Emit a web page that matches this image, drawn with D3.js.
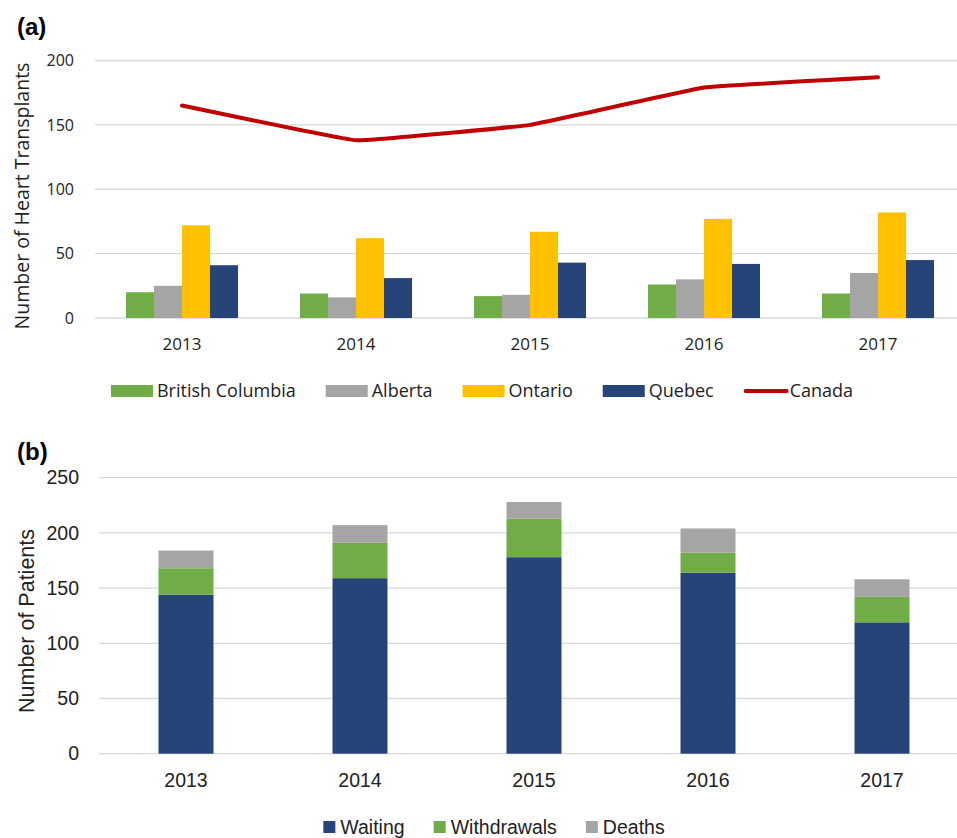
<!DOCTYPE html>
<html>
<head>
<meta charset="utf-8">
<script src="https://cdn.jsdelivr.net/npm/d3@7"></script>
<style>
  body { margin: 0; background: #fff; }
  svg { display: block; }
</style>
</head>
<body>
<div id="chart"></div>
<script>
// Data
const years = ['2013', '2014', '2015', '2016', '2017'];

// Panel (a): heart transplants by province
const provinces = ['British Columbia', 'Alberta', 'Ontario', 'Quebec'];
const britishColumbia = [20, 19, 17, 26, 19];
const alberta = [25, 16, 18, 30, 35];
const ontario = [72, 62, 67, 77, 82];
const quebec = [41, 31, 43, 42, 45];
const canada = [165, 138, 150, 179, 187];
const ticksA = [0, 50, 100, 150, 200];

// Panel (b): patients on the waiting list
const outcomes = ['Waiting', 'Withdrawals', 'Deaths'];
const waiting = [144, 159, 178, 164, 119];
const withdrawals = [24, 32, 35, 18, 23];
const deaths = [16, 16, 15, 22, 16];
const ticksB = [0, 50, 100, 150, 200, 250];

const provinceColors = ['#70AD47', '#A5A5A5', '#FFC000', '#264478'];
const outcomeColors = ['#264478', '#70AD47', '#A5A5A5'];
const gridColor = '#D9D9D9';

const W = 957, H = 838;

const svg = d3.select('#chart')
    .append('svg')
    .attr('width', W)
    .attr('height', H);

// ---------- Panel (a) ----------
const fontA = "'Open Sans', sans-serif";
const xA = d3.scaleBand().domain(years).range([95, 965]);
const yA = d3.scaleLinear().domain([0, 200]).range([318, 60.5]);
const xInner = d3.scaleBand().domain(provinces).range([0, 112]);

svg.append('text')
    .attr('x', 17).attr('y', 35)
    .style('font-family', 'Arial, sans-serif')
    .style('font-weight', 'bold')
    .style('font-size', '24px')
    .text('(a)');

// gridlines
svg.append('g')
    .selectAll('line')
    .data(ticksA)
    .join('line')
    .attr('x1', 95).attr('x2', W)
    .attr('y1', d => yA(d)).attr('y2', d => yA(d))
    .attr('stroke', gridColor)
    .attr('stroke-width', 1.3);

// y axis labels
const axisA = svg.append('g')
    .attr('transform', 'translate(80,0)')
    .call(d3.axisLeft(yA).tickValues(ticksA).tickSize(0).tickPadding(6));
axisA.select('.domain').remove();
axisA.selectAll('text')
    .style('font-family', fontA)
    .style('font-size', '16px')
    .attr('fill', '#222');

// x axis labels
const xAxisA = svg.append('g')
    .attr('transform', 'translate(0,318)')
    .call(d3.axisBottom(xA).tickSize(0).tickPadding(20));
xAxisA.select('.domain').remove();
xAxisA.selectAll('text')
    .style('font-family', fontA)
    .style('font-size', '17px')
    .attr('fill', '#222');

svg.append('text')
    .attr('transform', `translate(29,${(52 + 340) / 2}) rotate(-90)`)
    .attr('text-anchor', 'middle')
    .style('font-family', fontA)
    .style('font-size', '19.5px')
    .attr('fill', '#222')
    .text('Number of Heart Transplants');

// grouped bars
const provinceSeries = [britishColumbia, alberta, ontario, quebec];
const groupsA = svg.append('g')
    .selectAll('g')
    .data(years)
    .join('g')
    .attr('transform', d => `translate(${xA(d) + xA.bandwidth() / 2 - 56},0)`);

groupsA.selectAll('rect')
    .data((d, i) => provinces.map((p, j) => ({ p, v: provinceSeries[j][i], c: provinceColors[j] })))
    .join('rect')
    .attr('x', d => xInner(d.p))
    .attr('width', xInner.bandwidth())
    .attr('y', d => yA(d.v))
    .attr('height', d => yA(0) - yA(d.v))
    .attr('fill', d => d.c);

// Canada line (only lightly smoothed, like the original)
const line = d3.line()
    .x((d, i) => xA(years[i]) + xA.bandwidth() / 2)
    .y(d => yA(d))
    .curve(d3.curveCardinal.tension(0.8));

svg.append('path')
    .datum(canada)
    .attr('d', line)
    .attr('fill', 'none')
    .attr('stroke', '#C00000')
    .attr('stroke-width', 4)
    .attr('stroke-linecap', 'round')
    .attr('stroke-linejoin', 'round');

// legend (a)
const legendA = svg.append('g').attr('transform', 'translate(0,391)');
const itemsA = provinces.map((p, i) => ({ name: p, color: provinceColors[i], type: 'rect' }))
    .concat([{ name: 'Canada', color: '#C00000', type: 'line' }]);
let lx = 0;
itemsA.forEach(it => {
    const g = legendA.append('g').attr('transform', `translate(${lx},0)`);
    if (it.type === 'rect') {
        g.append('rect').attr('x', 0).attr('y', -6).attr('width', 42).attr('height', 12).attr('fill', it.color);
    } else {
        g.append('line').attr('x1', 2).attr('x2', 43).attr('y1', 0).attr('y2', 0)
            .attr('stroke', it.color).attr('stroke-width', 4).attr('stroke-linecap', 'round');
    }
    const t = g.append('text')
        .attr('x', 46).attr('y', 0).attr('dy', '0.35em')
        .style('font-family', fontA)
        .style('font-size', '18px')
        .attr('fill', '#222')
        .text(it.name);
    lx += 46 + t.node().getComputedTextLength() + 30;
});
const widthA = lx - 30;
legendA.attr('transform', `translate(${482 - widthA / 2},391)`);

// ---------- Panel (b) ----------
const fontB = "'Liberation Sans', Arial, sans-serif";
const xB = d3.scaleBand().domain(years).range([99, 969]);
const yB = d3.scaleLinear().domain([0, 250]).range([753.7, 477.7]);

svg.append('text')
    .attr('x', 17).attr('y', 460)
    .style('font-family', 'Arial, sans-serif')
    .style('font-weight', 'bold')
    .style('font-size', '24px')
    .text('(b)');

svg.append('g')
    .selectAll('line')
    .data(ticksB)
    .join('line')
    .attr('x1', 99).attr('x2', W)
    .attr('y1', d => yB(d)).attr('y2', d => yB(d))
    .attr('stroke', gridColor)
    .attr('stroke-width', 1.3);

const axisB = svg.append('g')
    .attr('transform', 'translate(85,0)')
    .call(d3.axisLeft(yB).tickValues(ticksB).tickSize(0).tickPadding(6));
axisB.select('.domain').remove();
axisB.selectAll('text')
    .style('font-family', fontB)
    .style('font-size', '19.5px')
    .attr('fill', '#222');

const xAxisB = svg.append('g')
    .attr('transform', 'translate(0,753.7)')
    .call(d3.axisBottom(xB).tickSize(0).tickPadding(19));
xAxisB.select('.domain').remove();
xAxisB.selectAll('text')
    .style('font-family', fontB)
    .style('font-size', '19.5px')
    .attr('fill', '#222');

svg.append('text')
    .attr('transform', `translate(34,621) rotate(-90)`)
    .attr('text-anchor', 'middle')
    .style('font-family', fontB)
    .style('font-size', '21.5px')
    .attr('fill', '#222')
    .text('Number of Patients');

// stacked bars
const tableB = years.map((y, i) => ({ year: y, Waiting: waiting[i], Withdrawals: withdrawals[i], Deaths: deaths[i] }));
const stack = d3.stack().keys(outcomes)(tableB);
const barW = 55;

svg.append('g')
    .selectAll('g')
    .data(stack)
    .join('g')
    .attr('fill', (d, i) => outcomeColors[i])
    .selectAll('rect')
    .data(d => d)
    .join('rect')
    .attr('x', d => xB(d.data.year) + xB.bandwidth() / 2 - barW / 2)
    .attr('width', barW)
    .attr('y', d => yB(d[1]))
    .attr('height', d => yB(d[0]) - yB(d[1]));

// legend (b)
const legendB = svg.append('g');
let bx = 0;
outcomes.forEach((o, i) => {
    const g = legendB.append('g').attr('transform', `translate(${bx},0)`);
    g.append('rect').attr('x', 0).attr('y', -6).attr('width', 12).attr('height', 12).attr('fill', outcomeColors[i]);
    const t = g.append('text')
        .attr('x', 17).attr('y', 0).attr('dy', '0.35em')
        .style('font-family', fontB)
        .style('font-size', '19.5px')
        .attr('fill', '#222')
        .text(o);
    bx += 17 + t.node().getComputedTextLength() + 29;
});
const widthB = bx - 29;
legendB.attr('transform', `translate(${494 - widthB / 2},827)`);
</script>
</body>
</html>
